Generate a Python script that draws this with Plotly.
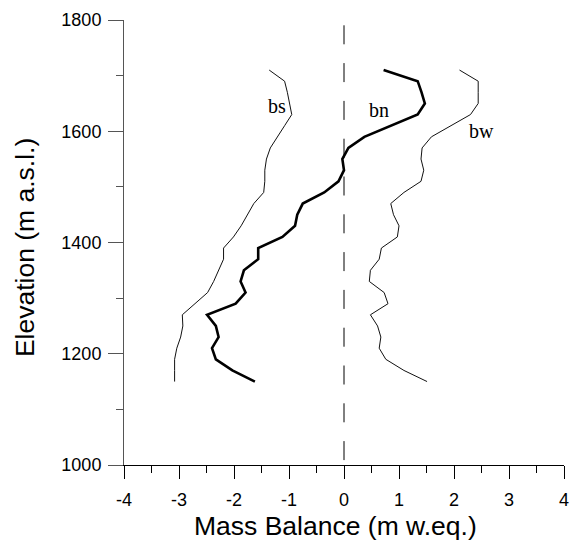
import plotly.graph_objects as go

# Elevation bands (m a.s.l.), 20 m steps from the top of the glacier down
elevation = [1710, 1690, 1670, 1650, 1630, 1610, 1590, 1570, 1550, 1530,
             1510, 1490, 1470, 1450, 1430, 1410, 1390, 1370, 1350, 1330,
             1310, 1290, 1270, 1250, 1230, 1210, 1190, 1170, 1150]

# Summer balance bs (m w.eq.)
bs = [-1.36, -1.08, -1.03, -0.99, -0.95, -1.08, -1.21, -1.34, -1.41, -1.44,
      -1.44, -1.46, -1.64, -1.75, -1.87, -2.01, -2.19, -2.19, -2.28, -2.37,
      -2.48, -2.72, -2.94, -2.93, -2.97, -3.04, -3.08, -3.08, -3.08]

# Net balance bn (m w.eq.)
bn = [0.72, 1.34, 1.41, 1.47, 1.34, 0.87, 0.37, 0.08, -0.03, 0.00,
      -0.10, -0.36, -0.75, -0.85, -0.89, -1.12, -1.56, -1.56, -1.82, -1.88,
      -1.79, -1.97, -2.49, -2.33, -2.28, -2.40, -2.33, -2.03, -1.62]

# Winter balance bw (m w.eq.)
bw = [2.10, 2.44, 2.44, 2.44, 2.30, 1.95, 1.59, 1.42, 1.40, 1.45,
      1.40, 1.09, 0.85, 0.90, 1.00, 0.97, 0.68, 0.64, 0.48, 0.46,
      0.73, 0.80, 0.48, 0.61, 0.67, 0.64, 0.76, 1.09, 1.51]

# Curve labels: (text, balance, elevation)
curve_labels = [("bs", -1.22, 1646), ("bn", 0.63, 1639), ("bw", 2.50, 1600)]

x_ticks = [-4, -3, -2, -1, 0, 1, 2, 3, 4]
y_ticks = [1000, 1200, 1400, 1600, 1800]

SANS = "Liberation Sans, Arial, sans-serif"
SERIF = "Liberation Serif, Times New Roman, serif"

fig = go.Figure()

fig.add_trace(go.Scatter(x=bs, y=elevation, mode="lines",
                         line=dict(color="#111111", width=1), showlegend=False))
fig.add_trace(go.Scatter(x=bw, y=elevation, mode="lines",
                         line=dict(color="#111111", width=1), showlegend=False))
fig.add_trace(go.Scatter(x=bn, y=elevation, mode="lines",
                         line=dict(color="#000000", width=2.6), showlegend=False))

# Zero-balance reference line
fig.add_shape(type="line", xref="x", yref="paper", x0=0, x1=0, y0=0.011, y1=1.016,
              line=dict(color="#000000", width=1, dash="19px,18.8px"))

for text, xv, yv in curve_labels:
    fig.add_annotation(x=xv, y=yv, xref="x", yref="y", text=text, showarrow=False,
                       font=dict(family=SERIF, size=20, color="#000000"),
                       xanchor="center", yanchor="middle")

# Axis titles
fig.add_annotation(xref="paper", yref="paper", x=(338 - 124) / 445, y=-(526 - 465) / 445,
                   text="Mass Balance (m w.eq.)", showarrow=False,
                   font=dict(family=SANS, size=26.5, color="#000000"),
                   xanchor="center", yanchor="middle")
fig.add_annotation(xref="paper", yref="paper", x=-(124 - 24) / 445, y=(465 - 248) / 445,
                   text="Elevation (m a.s.l.)", showarrow=False, textangle=-90,
                   font=dict(family=SANS, size=26.5, color="#000000"),
                   xanchor="center", yanchor="middle")

fig.update_xaxes(range=[-4, 4], tickvals=x_ticks, ticktext=[str(v) for v in x_ticks],
                 showgrid=False, zeroline=False, showline=True, linecolor="#000000",
                 linewidth=1, ticks="outside", ticklen=13, tickwidth=1, tickcolor="#000000",
                 ticklabelstandoff=5,
                 minor=dict(dtick=0.5, ticks="outside", ticklen=7, tickwidth=1,
                            tickcolor="#000000", showgrid=False),
                 tickfont=dict(family=SANS, size=18, color="#000000"))
fig.update_yaxes(range=[1000, 1800], tickvals=y_ticks, ticktext=[str(v) for v in y_ticks],
                 showgrid=False, zeroline=False, showline=True, linecolor="#555555",
                 linewidth=1, ticks="outside", ticklen=15, tickwidth=1, tickcolor="#555555",
                 ticklabelstandoff=3,
                 minor=dict(dtick=100, ticks="outside", ticklen=7, tickwidth=1,
                            tickcolor="#555555", showgrid=False),
                 tickfont=dict(family=SANS, size=18, color="#000000"))

fig.update_layout(width=575, height=541, margin=dict(l=124, r=6, t=20, b=76),
                  plot_bgcolor="#ffffff", paper_bgcolor="#ffffff")

fig.write_html("out.html")
